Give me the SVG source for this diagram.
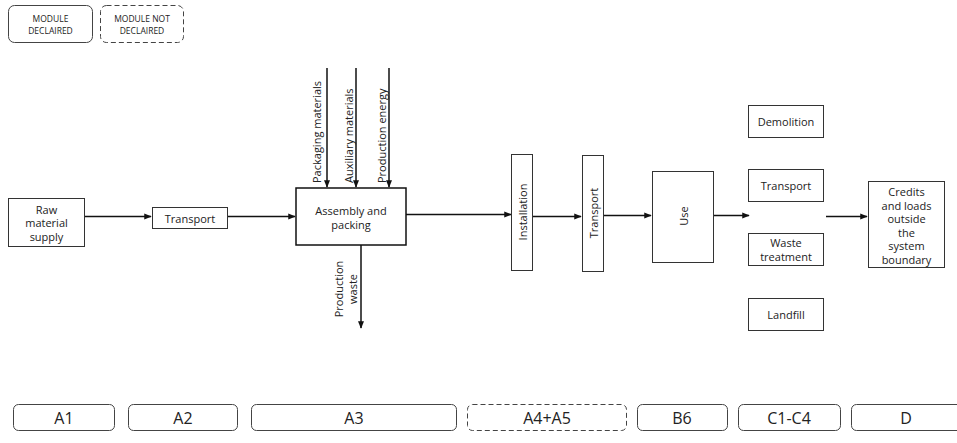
<svg xmlns="http://www.w3.org/2000/svg" width="957" height="443" viewBox="0 0 957 443">
<style>
text{font-family:"Open Sans","Liberation Sans",sans-serif;fill:#222;text-anchor:middle;dominant-baseline:central}
.box{fill:#fff;stroke:#333;stroke-width:1}
.rb{fill:#fff;stroke:#444;stroke-width:1}
.dash{stroke-dasharray:5,3}
.t{font-size:11px}
.st{text-anchor:start}
.s{font-size:8.5px}
.m{font-size:16px}
.con line{stroke:#111;stroke-width:1.5;marker-end:url(#ah)}
</style>
<defs>
<marker id="ah" viewBox="0 0 10 10" refX="9" refY="5" markerWidth="5" markerHeight="5" orient="auto" markerUnits="strokeWidth">
<path d="M0,1 L10,5 L0,9 Z" fill="#111"/>
</marker>
</defs>
<rect width="957" height="443" fill="#fff"/>
<g id="legend-declared"><rect class="rb" x="8.5" y="5.5" width="84" height="37" rx="6"/><text class="s" x="50.5" y="18">MODULE</text><text class="s" x="50.5" y="30">DECLAIRED</text></g>
<g id="legend-not-declared"><rect class="rb dash" x="100.5" y="5.5" width="83" height="37" rx="6"/><text class="s" x="142" y="18">MODULE NOT</text><text class="s" x="142" y="30">DECLAIRED</text></g>

<g class="con" id="connectors">
<line x1="84" y1="216.5" x2="151" y2="216.5"/>
<line x1="227" y1="216.5" x2="295" y2="216.5"/>
<line x1="327" y1="68" x2="327" y2="187"/>
<line x1="356" y1="68" x2="356" y2="187"/>
<line x1="389" y1="68" x2="389" y2="187"/>
<line x1="361" y1="245" x2="361" y2="328"/>
<line x1="406" y1="214.5" x2="511" y2="214.5"/>
<line x1="533" y1="216.5" x2="581" y2="216.5"/>
<line x1="603" y1="215.5" x2="651" y2="215.5"/>
<line x1="713" y1="215.5" x2="749" y2="215.5"/>
<line x1="826" y1="216.5" x2="867" y2="216.5"/>
</g>
<g id="flow-labels">
<text class="t st" transform="translate(316,183) rotate(-90)">Packaging materials</text>
<text class="t st" transform="translate(348,183) rotate(-90)">Auxiliary materials</text>
<text class="t st" transform="translate(381,183) rotate(-90)">Production energy</text>
<text class="t" transform="translate(338,289) rotate(-90)">Production</text>
<text class="t" transform="translate(352,289) rotate(-90)">waste</text>
</g>

<g id="raw"><rect class="box" x="8.5" y="198.5" width="76" height="48"/><text class="t" x="46.5" y="209">Raw</text><text class="t" x="46.5" y="222.5">material</text><text class="t" x="46.5" y="236">supply</text></g>
<g id="transport1"><rect class="box" x="152.5" y="207.5" width="75" height="21"/><text class="t" x="190" y="218">Transport</text></g>
<g id="assembly"><rect class="box" x="296" y="188" width="110" height="57" style="stroke-width:1.5;stroke:#111"/><text class="t" x="351" y="210.5">Assembly and</text><text class="t" x="351" y="224.5">packing</text></g>
<g id="installation"><rect class="box" x="511.5" y="154.5" width="21" height="116"/><text class="t" transform="translate(522,212) rotate(-90)">Installation</text></g>
<g id="transport2"><rect class="box" x="582.5" y="155.5" width="21" height="116"/><text class="t" transform="translate(593,213) rotate(-90)">Transport</text></g>
<g id="use"><rect class="box" x="652.5" y="171.5" width="61" height="91"/><text class="t" transform="translate(683,216) rotate(-90)">Use</text></g>
<g id="demolition"><rect class="box" x="748.5" y="105.5" width="75" height="32"/><text class="t" x="786" y="121">Demolition</text></g>
<g id="transport3"><rect class="box" x="748.5" y="169.5" width="75" height="32"/><text class="t" x="786" y="185">Transport</text></g>
<g id="waste"><rect class="box" x="748.5" y="233.5" width="75" height="32"/><text class="t" x="786" y="242.5">Waste</text><text class="t" x="786" y="256.5">treatment</text></g>
<g id="landfill"><rect class="box" x="748.5" y="298.5" width="75" height="32"/><text class="t" x="786" y="314">Landfill</text></g>
<g id="credits"><rect class="box" x="868.5" y="181.5" width="76" height="86"/>
<text class="t" x="906.5" y="191.5">Credits</text><text class="t" x="906.5" y="205">and loads</text><text class="t" x="906.5" y="218.5">outside</text><text class="t" x="906.5" y="232">the</text><text class="t" x="906.5" y="245.5">system</text><text class="t" x="906.5" y="259">boundary</text></g>

<g id="mod-A1"><rect class="rb" x="13.5" y="404.5" width="101" height="26" rx="5"/><text class="m" x="64" y="417.5">A1</text></g>
<g id="mod-A2"><rect class="rb" x="128.5" y="404.5" width="109" height="26" rx="5"/><text class="m" x="183" y="417.5">A2</text></g>
<g id="mod-A3"><rect class="rb" x="251.5" y="404.5" width="205" height="26" rx="5"/><text class="m" x="354" y="417.5">A3</text></g>
<g id="mod-A4A5"><rect class="rb dash" x="467.5" y="404.5" width="159" height="26" rx="5"/><text class="m" x="547" y="417.5">A4+A5</text></g>
<g id="mod-B6"><rect class="rb" x="637.5" y="404.5" width="90" height="26" rx="5"/><text class="m" x="682" y="417.5">B6</text></g>
<g id="mod-C"><rect class="rb" x="738.5" y="404.5" width="102" height="26" rx="5"/><text class="m" x="789" y="417.5">C1-C4</text></g>
<g id="mod-D"><rect class="rb" x="851.5" y="404.5" width="112" height="26" rx="5"/><text class="m" x="906" y="417.5">D</text></g>
</svg>
